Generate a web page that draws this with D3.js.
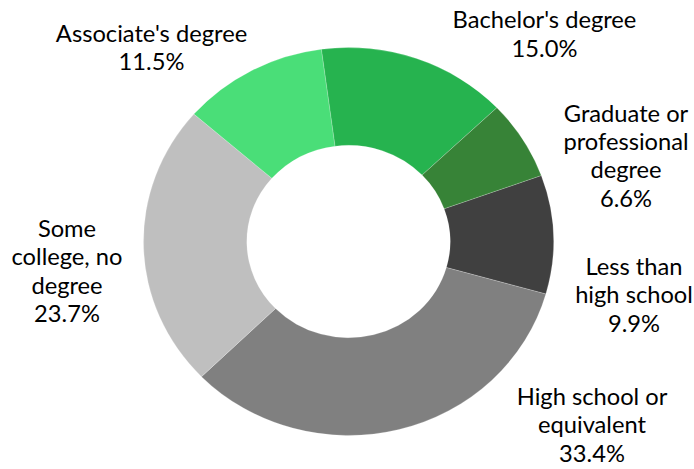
<!DOCTYPE html>
<html>
<head>
<meta charset="utf-8">
<script src="https://cdn.jsdelivr.net/npm/d3@7"></script>
<style>
  html, body { margin: 0; padding: 0; background: #fff; }
  svg { display: block; }
</style>
</head>
<body>
<svg id="chart" width="694" height="469"></svg>
<script>
// ---- data ----
const categories = [
  "Less than high school",
  "High school or equivalent",
  "Some college, no degree",
  "Associate's degree",
  "Bachelor's degree",
  "Graduate or professional degree"
];
const values = [9.9, 33.4, 23.7, 11.5, 15.0, 6.6];
const labelLines = [
  ["Less than", "high school"],
  ["High school or", "equivalent"],
  ["Some", "college, no", "degree"],
  ["Associate's degree"],
  ["Bachelor's degree"],
  ["Graduate or", "professional", "degree"]
];
const colors = ["#404040", "#808080", "#bfbfbf", "#4ade78", "#26b34f", "#378337"];

// ---- layout ----
const cx = 348.5, cy = 241.5, R = 205, r = 101.7, yScale = 0.946;
const startDeg = 70.1;
// label anchor (center x, first baseline) per category
const labelPos = [
  [634, 275],
  [592, 405],
  [67, 237],
  [151.5, 41.7],
  [544.5, 28.3],
  [626, 121.7]
];
const lineH = 28.3;

const svg = d3.select("#chart");
const pie = d3.pie().sort(null).value(d => d)
  .startAngle(startDeg * Math.PI / 180)
  .endAngle(startDeg * Math.PI / 180 + 2 * Math.PI);
const arc = d3.arc().innerRadius(r).outerRadius(R);

const g = svg.append("g")
  .attr("transform", `translate(${cx},${cy}) scale(1,${yScale})`);

g.selectAll("path")
  .data(pie(values))
  .join("path")
  .attr("d", arc)
  .attr("fill", (d, i) => colors[i])
  .attr("stroke", "#ffffff")
  .attr("stroke-opacity", 0.35)
  .attr("stroke-width", 0.6);

const fmt = d3.format(".1f");
const labels = svg.append("g")
  .attr("font-family", "Lato, 'Open Sans', sans-serif")
  .attr("font-size", 23.7)
  .attr("fill", "#000")
  .attr("text-anchor", "middle");

categories.forEach((c, i) => {
  const lines = labelLines[i].concat([fmt(values[i]) + "%"]);
  const t = labels.append("text")
    .attr("x", labelPos[i][0])
    .attr("y", labelPos[i][1]);
  lines.forEach((ln, k) => {
    t.append("tspan")
      .attr("x", labelPos[i][0])
      .attr("y", labelPos[i][1] + k * lineH)
      .text(ln);
  });
});
</script>
</body>
</html>
